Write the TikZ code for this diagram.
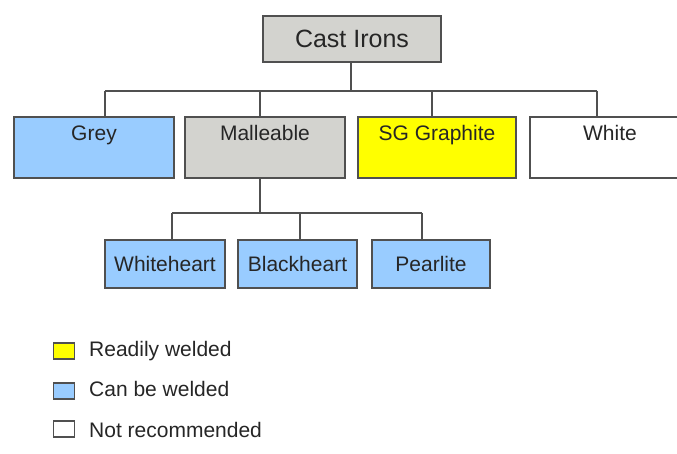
\documentclass[tikz,border=0pt]{standalone}
\usepackage{fontspec}
\setmainfont{Liberation Sans}
\definecolor{bluefill}{HTML}{99CCFF}
\definecolor{greyfill}{HTML}{D3D3CF}
\definecolor{yellowfill}{HTML}{FFFF00}
\definecolor{edge}{HTML}{505050}
\definecolor{txt}{HTML}{262626}
\begin{document}
\begin{tikzpicture}[x=1pt,y=-1pt,
  box/.style={draw=edge,line width=2pt,rectangle,inner sep=0pt,text=txt,
    font=\fontsize{21}{25}\selectfont},
  topbox/.style={box,minimum width=160pt,text height=19.5pt,text depth=33.5pt,inner ysep=4pt},
  subbox/.style={box,fill=bluefill,minimum height=48pt},
  conn/.style={draw=edge,line width=2pt},
  legsq/.style={draw=edge,line width=1.5pt,minimum width=21pt,minimum height=16pt,inner sep=0pt},
  legtxt/.style={anchor=west,text=txt,inner sep=0pt,font=\fontsize{21}{25}\selectfont}]
\useasboundingbox (0,0) rectangle (677,454);
\fill[white] (0,0) rectangle (677,454);
\begin{scope}
\clip (0,0) rectangle (677,454);
% top node
\node[box,fill=greyfill,minimum width=178pt,minimum height=46pt,font=\fontsize{25}{30}\selectfont] (ci) at (352,39) {Cast Irons};
% level 2
\node[topbox,fill=bluefill] (grey) at (94,147.5) {Grey};
\node[topbox,fill=greyfill] (mall) at (265,147.5) {Malleable};
\node[topbox,fill=yellowfill,minimum width=158pt] (sg) at (437,147.5) {SG Graphite};
\node[topbox,fill=white] (white) at (610,147.5) {White};
% level 3
\node[subbox,minimum width=120pt] (wh) at (165,264) {Whiteheart};
\node[subbox,minimum width=119pt] (bh) at (297.5,264) {Blackheart};
\node[subbox,minimum width=118pt] (pe) at (431,264) {Pearlite};
% bus 1
\coordinate (b0) at (351,91);
\coordinate (b1) at (105,91);
\coordinate (b2) at (260,91);
\coordinate (b3) at (432,91);
\coordinate (b4) at (597,91);
\draw[conn] (ci.south -| b0) -- (b0);
\draw[conn] (b1) -- (b4);
\draw[conn] (b1) -- (b1 |- grey.north);
\draw[conn] (b2) -- (b2 |- mall.north);
\draw[conn] (b3) -- (b3 |- sg.north);
\draw[conn] (b4) -- (b4 |- white.north);
% bus 2
\coordinate (c0) at (260,213);
\coordinate (c1) at (172,213);
\coordinate (c2) at (300,213);
\coordinate (c3) at (422,213);
\draw[conn] (mall.south -| c0) -- (c0);
\draw[conn] (c1) -- (c3);
\draw[conn] (c1) -- (c1 |- wh.north);
\draw[conn] (c2) -- (c2 |- bh.north);
\draw[conn] (c3) -- (c3 |- pe.north);
\end{scope}
% legend
\node[legsq,fill=yellowfill] (l1) at (64,351) {};
\node[legtxt] (t1) at (89,351) {Readily welded};
\node[legsq,fill=bluefill] (l2) at (64,391) {};
\node[legtxt] (t2) at (89,389) {Can be welded};
\node[legsq,fill=white] (l3) at (64,429) {};
\node[legtxt] (t3) at (89,430) {Not recommended};
\end{tikzpicture}
\end{document}
